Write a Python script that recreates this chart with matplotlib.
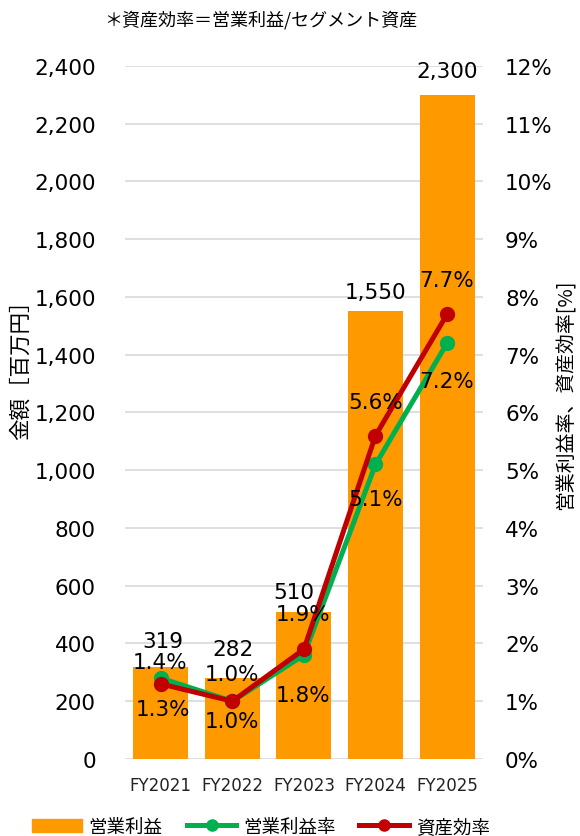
import matplotlib.pyplot as plt
from matplotlib.patches import Patch
from matplotlib.lines import Line2D

plt.rcParams['font.family'] = ['DejaVu Sans', 'Noto Sans CJK JP']

years = ["FY2021", "FY2022", "FY2023", "FY2024", "FY2025"]
profit = [319, 282, 510, 1550, 2300]            # 営業利益 [百万円]
profit_margin = [1.4, 1.0, 1.8, 5.1, 7.2]       # 営業利益率 [%]
asset_eff = [1.3, 1.0, 1.9, 5.6, 7.7]           # 資産効率 [%]

ORANGE = "#FF9900"
GREEN = "#00B050"
RED = "#C00000"
JP = ['Noto Sans CJK JP', 'DejaVu Sans']
FS = 15.5

fig = plt.figure(figsize=(5.8, 8.37), dpi=100)
ax = fig.add_axes([0.2155, 0.092, 0.617, 0.828])
ax2 = ax.twinx()

x = list(range(len(years)))
ax.bar(x, profit, width=0.77, color=ORANGE, zorder=2)
ax.set_xlim(-0.5, 4.5)
ax.set_ylim(0, 2400)
ax.set_yticks(range(0, 2401, 200))
ax.set_yticklabels([f"{v:,}" for v in range(0, 2401, 200)], fontsize=FS)
ax.set_xticks(x)
ax.set_xticklabels(years, fontsize=12, color="#222222")
ax.grid(axis="y", color="#D9D9D9", linewidth=1.2, zorder=0)
ax.set_axisbelow(True)
ax.tick_params(axis="y", length=0, pad=21)
ax.tick_params(axis="x", length=0, pad=12)
for s in ax.spines.values():
    s.set_visible(False)
ax.set_ylabel("金額［百万円］", family=JP, fontsize=15.5)
ax.yaxis.set_label_coords(-0.26, 0.57)

# bar value labels, offsets in pixels (dx, dy)
bar_off = [(2, 26), (1, 29), (-10, 20), (0, 19), (0, 24)]
for xi, v, (dx, dy) in zip(x, profit, bar_off):
    ax.annotate(f"{v:,}", (xi, v), xytext=(dx, dy), textcoords="offset pixels",
                ha="center", va="center", fontsize=FS)

ax2.plot(x, profit_margin, color=GREEN, lw=3.6, marker="o", ms=10, zorder=3)
ax2.plot(x, asset_eff, color=RED, lw=3.6, marker="o", ms=10, zorder=4)
ax2.set_ylim(0, 12)
ax2.set_yticks(range(0, 13))
ax2.set_yticklabels([f"{v}%" for v in range(0, 13)], fontsize=FS)
ax2.tick_params(length=0, pad=16)
for s in ax2.spines.values():
    s.set_visible(False)
ax2.set_ylabel("営業利益率、資産効率[%]", family=JP, fontsize=14.3)
ax2.yaxis.set_label_coords(1.204, 0.527)

green_off = [(-1, 16), (0, 27), (-1, -40), (0, -35), (0, -38)]
red_off = [(2, -25), (0, -20), (-1, 35), (0, 34), (0, 34)]
for xi, v, (dx, dy) in zip(x, profit_margin, green_off):
    ax2.annotate(f"{v:.1f}%", (xi, v), xytext=(dx, dy), textcoords="offset pixels",
                 ha="center", va="center", fontsize=FS, zorder=5)
for xi, v, (dx, dy) in zip(x, asset_eff, red_off):
    ax2.annotate(f"{v:.1f}%", (xi, v), xytext=(dx, dy), textcoords="offset pixels",
                 ha="center", va="center", fontsize=FS, zorder=5)

fig.text(0.45, 0.976, "＊資産効率＝営業利益/セグメント資産", family=JP, fontsize=13,
         ha="center", va="center")

handles = [
    Patch(color=ORANGE),
    Line2D([], [], color=GREEN, lw=3.6, marker="o", ms=8),
    Line2D([], [], color=RED, lw=3.6, marker="o", ms=8),
]
fig.legend(handles, ["営業利益", "営業利益率", "資産効率"], loc="center",
           bbox_to_anchor=(0.45, 0.011), ncol=3, frameon=False,
           prop={"family": JP, "size": 13.3}, handlelength=2.7,
           handletextpad=0.35, columnspacing=1.3, borderpad=0)

fig.savefig("out.png", dpi=100)
